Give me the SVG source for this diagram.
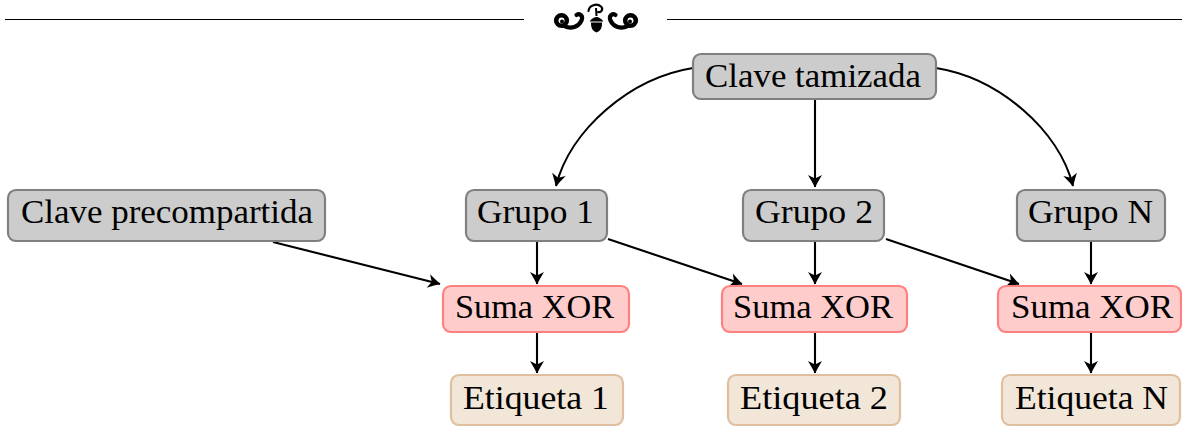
<svg xmlns="http://www.w3.org/2000/svg" width="1182" height="430" viewBox="0 0 1182 430">
  <style>
    .lbl { font-family: "Liberation Serif", "Times New Roman", serif; font-size: 33px; fill: #000; text-anchor: middle; }
    .key { fill: #cccccc; stroke: #808080; stroke-width: 2.2; }
    .xor { fill: #ffcccc; stroke: #ff8080; stroke-width: 2.2; }
    .tag { fill: #f2e6d9; stroke: #dfbf9f; stroke-width: 2.2; }
    .edge { fill: none; stroke: #000; stroke-width: 2.1; marker-end: url(#stealth); }
    .rule { stroke: #000; stroke-width: 1; }
  </style>
  <defs>
    <marker id="stealth" markerUnits="userSpaceOnUse" markerWidth="18" markerHeight="18" viewBox="-15 -9 18 18" refX="0" refY="0" orient="auto">
      <path d="M0.5,0 Q-5,-2.8 -12,-7 L-8.5,0 L-12,7 Q-5,2.8 0.5,0 Z" fill="#000"/>
    </marker>
  </defs>

  <!-- header rule with ornament -->
  <g id="header">
    <line class="rule" x1="5" y1="19.5" x2="524" y2="19.5"/>
    <line class="rule" x1="667" y1="19.5" x2="1182" y2="19.5"/>
    <g id="swirl-left">
      <circle cx="561.5" cy="20.5" r="5.3" fill="none" stroke="#000" stroke-width="4.6"/>
      <circle cx="562" cy="21.5" r="2" fill="#000"/>
      <path d="M564 25.8 C571 29.5, 578.5 27, 581.5 20.5 C583.5 16, 580 12.8, 576.5 15" fill="none" stroke="#000" stroke-width="4.2" stroke-linecap="round"/>
    </g>
    <use href="#swirl-left" transform="matrix(-1 0 0 1 1192 0)"/>
    <g id="acorn">
      <path d="M588.5 11 C589 5, 597 3, 601 6.5 C603.5 9, 601.5 13, 598 12" fill="none" stroke="#000" stroke-width="2.2" stroke-linecap="round"/>
      <line x1="596" y1="8" x2="596.5" y2="16" stroke="#000" stroke-width="2"/>
      <path d="M589.5 21.5 Q596.5 12.5 603.5 21.5 Z" fill="#000"/>
      <path d="M591 22.5 L602 22.5 Q602.5 30.5 596.5 32.5 Q590.5 30.5 591 22.5 Z" fill="#000"/>
    </g>
  </g>

  <!-- connectors -->
  <g id="connectors">
    <path class="edge" d="M693 68 C630 78, 570 130, 556 186"/>
    <path class="edge" d="M815 100 L815 187"/>
    <path class="edge" d="M936 68 C999 78, 1059 130, 1073 186"/>
    <path class="edge" d="M273 242 L440 284"/>
    <path class="edge" d="M608 239 L742 284"/>
    <path class="edge" d="M886 239 L1019 284"/>
    <path class="edge" d="M537 242 L537 284"/>
    <path class="edge" d="M815 242 L815 284"/>
    <path class="edge" d="M1091 242 L1091 284"/>
    <path class="edge" d="M537 333 L537 373"/>
    <path class="edge" d="M815 333 L815 373"/>
    <path class="edge" d="M1091 333 L1091 373"/>
  </g>

  <!-- nodes -->
  <g id="clave-tamizada">
    <rect class="key" x="693" y="54" width="243" height="45" rx="8"/>
    <text class="lbl" x="813" y="87" textLength="216" lengthAdjust="spacingAndGlyphs">Clave tamizada</text>
  </g>
  <g id="clave-precompartida">
    <rect class="key" x="8" y="190" width="317" height="51" rx="8"/>
    <text class="lbl" x="167" y="223" textLength="292" lengthAdjust="spacingAndGlyphs">Clave precompartida</text>
  </g>
  <g id="grupo-1">
    <rect class="key" x="466" y="190" width="141" height="51" rx="8"/>
    <text class="lbl" x="535.5" y="223" textLength="117" lengthAdjust="spacingAndGlyphs">Grupo 1</text>
  </g>
  <g id="grupo-2">
    <rect class="key" x="743" y="190" width="141" height="51" rx="8"/>
    <text class="lbl" x="814" y="223" textLength="118" lengthAdjust="spacingAndGlyphs">Grupo 2</text>
  </g>
  <g id="grupo-n">
    <rect class="key" x="1017" y="190" width="148" height="51" rx="8"/>
    <text class="lbl" x="1090.5" y="223" textLength="125" lengthAdjust="spacingAndGlyphs">Grupo N</text>
  </g>
  <g id="suma-xor-1">
    <rect class="xor" x="443" y="286" width="186" height="46" rx="8"/>
    <text class="lbl" x="534.5" y="318" textLength="159" lengthAdjust="spacingAndGlyphs">Suma XOR</text>
  </g>
  <g id="suma-xor-2">
    <rect class="xor" x="722" y="286" width="185" height="46" rx="8"/>
    <text class="lbl" x="813" y="318" textLength="160" lengthAdjust="spacingAndGlyphs">Suma XOR</text>
  </g>
  <g id="suma-xor-n">
    <rect class="xor" x="998" y="286" width="183" height="46" rx="8"/>
    <text class="lbl" x="1092" y="318" textLength="162" lengthAdjust="spacingAndGlyphs">Suma XOR</text>
  </g>
  <g id="etiqueta-1">
    <rect class="tag" x="451" y="375" width="172" height="50" rx="8"/>
    <text class="lbl" x="536" y="409" textLength="146" lengthAdjust="spacingAndGlyphs">Etiqueta 1</text>
  </g>
  <g id="etiqueta-2">
    <rect class="tag" x="728" y="375" width="172" height="50" rx="8"/>
    <text class="lbl" x="814" y="409" textLength="148" lengthAdjust="spacingAndGlyphs">Etiqueta 2</text>
  </g>
  <g id="etiqueta-n">
    <rect class="tag" x="1002" y="375" width="178" height="50" rx="8"/>
    <text class="lbl" x="1091.5" y="409" textLength="153" lengthAdjust="spacingAndGlyphs">Etiqueta N</text>
  </g>
</svg>
